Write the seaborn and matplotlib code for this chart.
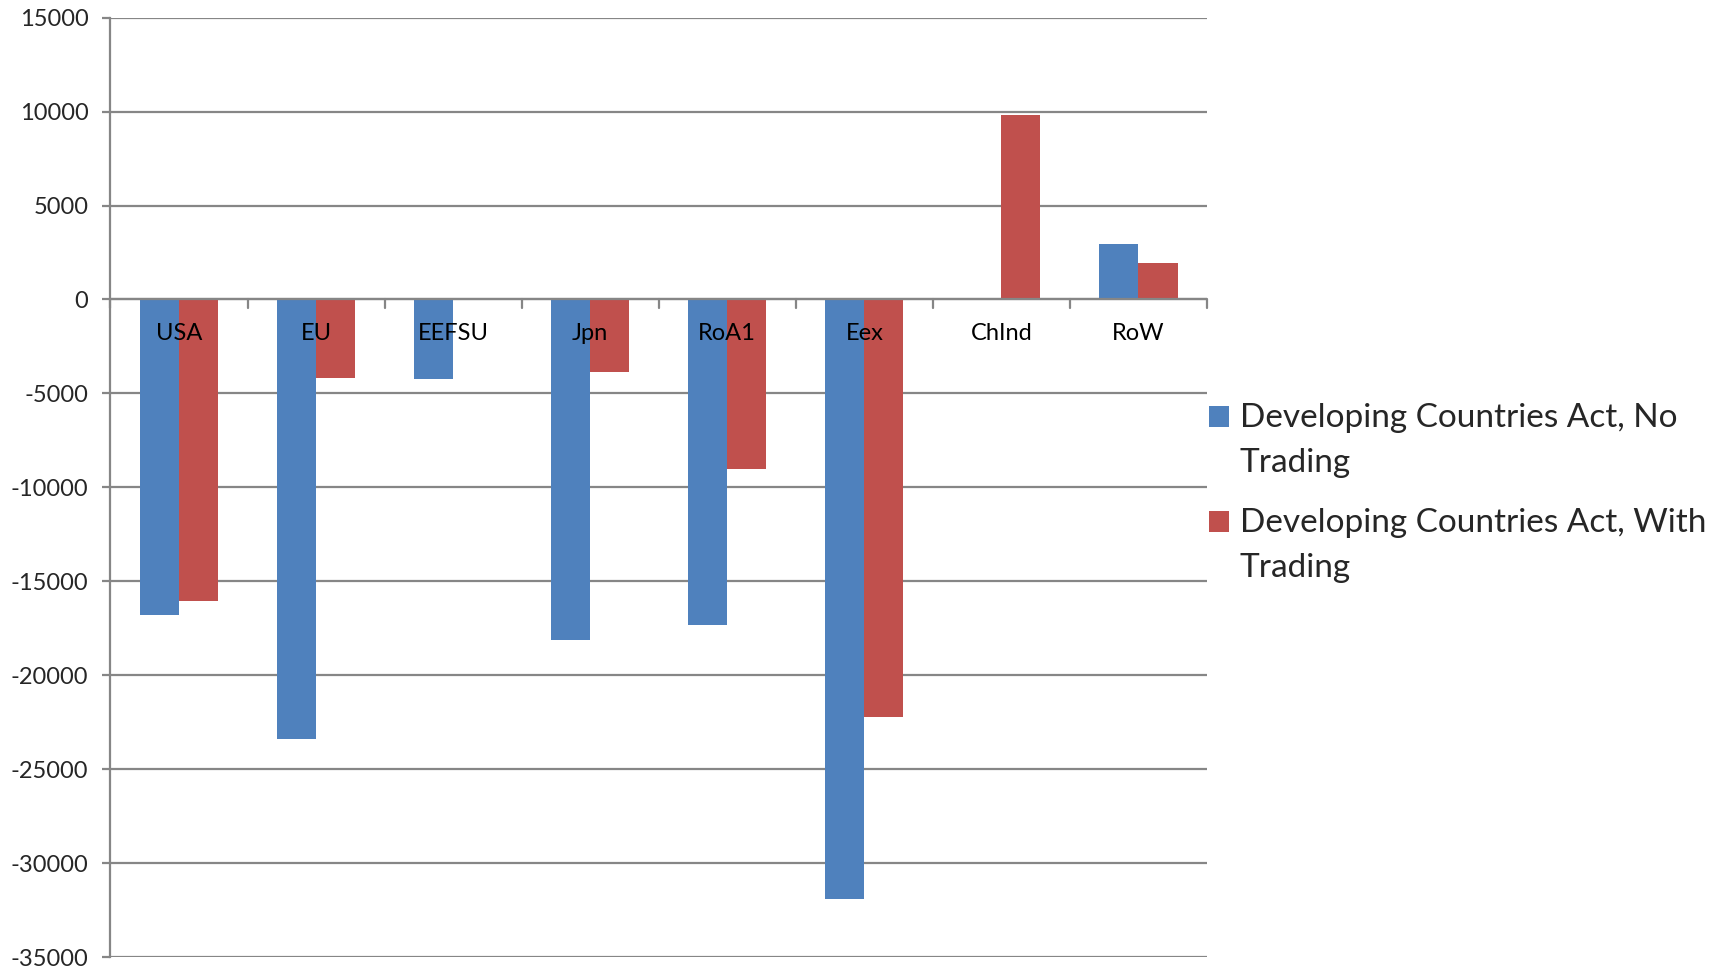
import matplotlib
matplotlib.use("Agg")
import matplotlib.pyplot as plt
import seaborn as sns
import pandas as pd
from matplotlib.patches import Rectangle
from matplotlib.legend_handler import HandlerPatch

# Regional welfare changes under two policy scenarios
regions = ["USA", "EU", "EEFSU", "Jpn", "RoA1", "Eex", "ChInd", "RoW"]
no_trading = [-16790, -23420, -4230, -18110, -17350, -31900, 0, 2980]
with_trading = [-16060, -4170, 0, -3840, -9040, -22230, 9800, 1950]
series_names = ["Developing Countries Act, No Trading",
                "Developing Countries Act, With Trading"]
legend_labels = ["Developing Countries Act, No\nTrading",
                 "Developing Countries Act, With\nTrading"]
colors = ["#4F81BD", "#C0504D"]
y_ticks = [15000, 10000, 5000, 0, -5000, -10000, -15000, -20000, -25000, -30000, -35000]

df = pd.DataFrame({
    "region": regions * 2,
    "value": no_trading + with_trading,
    "scenario": [series_names[0]] * len(regions) + [series_names[1]] * len(regions),
})

sns.set_style("white")
plt.rcParams["font.family"] = ["Lato", "DejaVu Sans"]

grid_gray = "#868686"
fig = plt.figure(figsize=(17.33, 9.68), dpi=100)
ax = fig.add_axes([110.5 / 1733, 1 - 957 / 968, (1207 - 110.5) / 1733, (957 - 17.7) / 968])

sns.barplot(data=df, x="region", y="value", hue="scenario", order=regions,
            hue_order=series_names, palette=colors, saturation=1,
            width=0.57, gap=0, linewidth=0, ax=ax, legend=False, zorder=3)

ax.set_xlim(-0.5, len(regions) - 0.5)
ax.set_ylim(min(y_ticks), max(y_ticks))
ax.set_yticks(y_ticks)
ax.set_yticklabels([str(t) for t in y_ticks])
ax.set_xlabel("")
ax.set_ylabel("")

# horizontal gridlines
ax.yaxis.grid(True, color=grid_gray, linewidth=1.6, zorder=0)
ax.xaxis.grid(False)
ax.set_axisbelow(True)

# category axis drawn along zero, labels sit just below it
for side in ["top", "right", "bottom"]:
    ax.spines[side].set_visible(False)
ax.spines["left"].set_color(grid_gray)
ax.spines["left"].set_linewidth(1.6)
ax.axhline(0, color=grid_gray, linewidth=1.6, zorder=4)

ax.xaxis.set_ticks_position("none")
ax.set_xticks(range(len(regions)))
ax.set_xticklabels([])
# boundary tick marks hanging from the zero line
for b in range(len(regions) + 1):
    ax.plot([b - 0.5, b - 0.5], [0, -430], color=grid_gray, linewidth=1.6,
            zorder=4, clip_on=False)
for i, r in enumerate(regions):
    ax.text(i, -1800, r, ha="center", va="center", fontsize=17, color="black", zorder=5)

ax.tick_params(axis="y", which="major", direction="out", length=6, width=1.6,
               color=grid_gray, pad=10, labelsize=17, left=True)


def top_line_square(legend, orig_handle, xdescent, ydescent, width, height, fontsize):
    # square legend key lined up with the first line of a two-line label
    return Rectangle((-xdescent, -ydescent + 17.8), width, height)


handles = [Rectangle((0, 0), 1, 1, facecolor=c, edgecolor="none") for c in colors]
leg = fig.legend(handles, legend_labels, loc="upper left",
                 bbox_to_anchor=(1209 / 1733, 1 - 403 / 968), bbox_transform=fig.transFigure,
                 frameon=False, fontsize=24, handlelength=0.6, handleheight=0.6,
                 handletextpad=0.33, labelspacing=0.9, borderpad=0, borderaxespad=0,
                 handler_map={Rectangle: HandlerPatch(patch_func=top_line_square)})
for t in leg.get_texts():
    t.set_linespacing(1.63)

fig.savefig("out.png", dpi=100, facecolor="white")
